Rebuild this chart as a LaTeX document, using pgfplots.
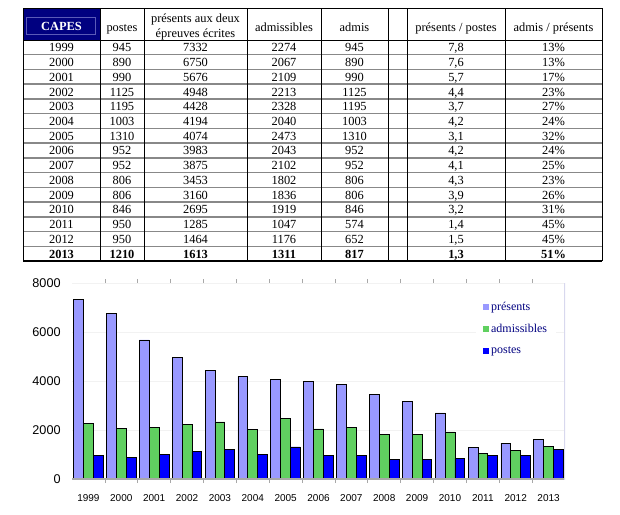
\documentclass[border=0pt]{standalone}
\usepackage{pgfplots}
\pgfplotsset{compat=1.18}
\usepackage{fontspec}
\setmainfont{Liberation Serif}
\newfontfamily\sansf{Liberation Sans}
\definecolor{pres}{HTML}{9999FF}
\definecolor{adm}{HTML}{60D060}
\definecolor{post}{HTML}{0000FF}
\definecolor{navyc}{HTML}{000080}
\definecolor{innerc}{HTML}{5A5AB8}
\definecolor{legtxt}{HTML}{000080}
\definecolor{rowline}{HTML}{888888}
\definecolor{gridc}{HTML}{F2F2F2}
\definecolor{gridd}{HTML}{DADADA}
\definecolor{frameR}{HTML}{D8D8EE}
\definecolor{frameB}{HTML}{A8A8A8}
\pgfplotsset{sqlegend/.style={legend image code/.code={\fill[##1,draw=none] (0pt,-2.2pt) rectangle (4.6pt,2.4pt);}}}
\newcommand\tfont{\fontsize{9.3}{10}\selectfont}
\newcommand\trow[9]{%
  \pgfmathsetmacro\yy{40+14.733*#1+11.8}%
  \node[font={\tfont#2},anchor=base] at (61.5,\yy) {#3};
  \node[font={\tfont#2},anchor=base] at (122,\yy) {#4};
  \node[font={\tfont#2},anchor=base] at (195.5,\yy) {#5};
  \node[font={\tfont#2},anchor=base] at (284,\yy) {#6};
  \node[font={\tfont#2},anchor=base] at (354.5,\yy) {#7};
  \node[font={\tfont#2},anchor=base] at (456,\yy) {#8};
  \node[font={\tfont#2},anchor=base] at (553.5,\yy) {#9\%};
}
\begin{document}
\begin{tikzpicture}
\path[use as bounding box] (0,0) rectangle (465pt,-385.5pt);
\begin{scope}[x=0.75pt,y=-0.75pt]
  \fill[navyc] (23,8) rectangle (100,40);
  \draw[innerc,line width=0.7pt] (26,17) rectangle (95,34);
  \foreach \k in {1,...,14} \draw[rowline,line width=1.1pt] (23,{40+14.733*\k}) -- (602,{40+14.733*\k});
  \draw[black,line width=0.7pt] (23,8) -- (602,8);
  \draw[black,line width=0.7pt] (23,40) -- (602,40);
  \draw[black,line width=0.8pt] (23,261) -- (602,261);
  \foreach \x in {23,100,144,247,321,388,407,505,602} \draw[black,line width=0.6pt] (\x,8) -- (\x,261);
  \node[font={\tfont\bfseries},text=white,anchor=base] at (61.5,30.5) {CAPES};
  \node[font=\tfont,anchor=base] at (122,31.5) {postes};
  \node[font=\tfont,anchor=base] at (195.5,22.5) {présents aux deux};
  \node[font=\tfont,anchor=base] at (195.5,37.5) {épreuves écrites};
  \node[font=\tfont,anchor=base] at (284,31.5) {admissibles};
  \node[font=\tfont,anchor=base] at (354.5,31.5) {admis};
  \node[font=\tfont,anchor=base] at (456,31.5) {présents / postes};
  \node[font=\tfont,anchor=base] at (553.5,31.5) {admis / présents};
  \trow{0}{}{1999}{945}{7332}{2274}{945}{7,8}{13}
  \trow{1}{}{2000}{890}{6750}{2067}{890}{7,6}{13}
  \trow{2}{}{2001}{990}{5676}{2109}{990}{5,7}{17}
  \trow{3}{}{2002}{1125}{4948}{2213}{1125}{4,4}{23}
  \trow{4}{}{2003}{1195}{4428}{2328}{1195}{3,7}{27}
  \trow{5}{}{2004}{1003}{4194}{2040}{1003}{4,2}{24}
  \trow{6}{}{2005}{1310}{4074}{2473}{1310}{3,1}{32}
  \trow{7}{}{2006}{952}{3983}{2043}{952}{4,2}{24}
  \trow{8}{}{2007}{952}{3875}{2102}{952}{4,1}{25}
  \trow{9}{}{2008}{806}{3453}{1802}{806}{4,3}{23}
  \trow{10}{}{2009}{806}{3160}{1836}{806}{3,9}{26}
  \trow{11}{}{2010}{846}{2695}{1919}{846}{3,2}{31}
  \trow{12}{}{2011}{950}{1285}{1047}{574}{1,4}{45}
  \trow{13}{}{2012}{950}{1464}{1176}{652}{1,5}{45}
  \trow{14}{\bfseries}{2013}{1210}{1613}{1311}{817}{1,3}{51}
\end{scope}
\begin{axis}[
  at={(54pt,-359.25pt)}, anchor=south west,
  width=369.75pt, height=147pt, scale only axis,
  xmin=-0.5, xmax=14.5, ymin=0, ymax=8000,
  enlargelimits=false,
  ybar, bar width=0.3,
  sqlegend,
  axis line style={draw=none},
  xtick={0,...,14},
  xticklabels={1999,2000,2001,2002,2003,2004,2005,2006,2007,2008,2009,2010,2011,2012,2013},
  minor xtick={0.5,1.5,2.5,3.5,4.5,5.5,6.5,7.5,8.5,9.5,10.5,11.5,12.5,13.5},
  tick align=outside, major tick length=0pt, minor tick length=3pt,
  major x tick style={draw=none},
  minor x tick style={draw=frameB,line width=0.5pt},
  ytick={0,2000,4000,6000,8000},
  ytick style={draw=none},
  scaled y ticks=false,
  /pgf/number format/assume math mode=true,
  /pgf/number format/1000 sep={},
  xticklabel style={font=\sansf\fontsize{7.5}{9}\selectfont, yshift=-8pt},
  yticklabel style={font=\sansf\fontsize{9.5}{11}\selectfont, xshift=-5pt},
  ymajorgrids, major grid style={draw=gridc, line width=0.6pt},
  extra y ticks={6000}, extra y tick labels={},
  extra y tick style={grid style={draw=gridd, line width=0.7pt}},
  legend cell align=left,
  legend style={at={(0.8195,0.945)}, anchor=north west, draw=none, fill=white,
    font=\fontsize{9}{10}\selectfont\color{legtxt}, row sep=5pt,
    inner xsep=5pt, inner ysep=4pt,
    nodes={inner xsep=1.5pt}},
]
\addplot[fill=pres, draw=black, line width=0.6pt, bar shift=-0.3] coordinates {
(0,7332) (1,6750) (2,5676) (3,4948) (4,4428) (5,4194) (6,4074) (7,3983)
(8,3875) (9,3453) (10,3160) (11,2695) (12,1285) (13,1464) (14,1613)};
\addplot[fill=adm, draw=black, line width=0.6pt, bar shift=0] coordinates {
(0,2274) (1,2067) (2,2109) (3,2213) (4,2328) (5,2040) (6,2473) (7,2043)
(8,2102) (9,1802) (10,1836) (11,1919) (12,1047) (13,1176) (14,1311)};
\addplot[fill=post, draw=black, line width=0.6pt, bar shift=0.3] coordinates {
(0,945) (1,890) (2,990) (3,1125) (4,1195) (5,1003) (6,1310) (7,952)
(8,952) (9,806) (10,806) (11,846) (12,950) (13,950) (14,1210)};
\legend{présents,admissibles,postes}
\draw[frameB, line width=0.8pt] (rel axis cs:0,0) -- (rel axis cs:1,0);
\draw[frameR, line width=0.8pt] (rel axis cs:1,-0.01) -- (rel axis cs:1,1.005);
\end{axis}
\end{tikzpicture}
\end{document}
